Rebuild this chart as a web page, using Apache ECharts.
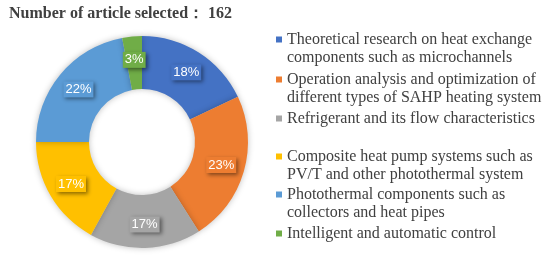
<!DOCTYPE html>
<html><head><meta charset="utf-8">
<script src="https://cdn.jsdelivr.net/npm/echarts@6/dist/echarts.min.js"></script>
<style>html,body{margin:0;padding:0;background:#fff}#c{width:550px;height:257px}</style>
</head><body><div id="c"></div>
<script>
const categories = [
  "Theoretical research on heat exchange\ncomponents such as microchannels",
  "Operation analysis and optimization of\ndifferent types of SAHP heating system",
  "Refrigerant and its flow characteristics",
  "Composite heat pump systems such as\nPV/T and other photothermal system",
  "Photothermal components such as\ncollectors and heat pipes",
  "Intelligent and automatic control"
];
const percentValues = [18, 23, 17, 17, 22, 3];
const colors = ["#4472C4", "#ED7D31", "#A5A5A5", "#FFC000", "#5B9BD5", "#70AD47"];
const titleText = "Number of article selected： 162";

const LH = 18.5;
const firstLineCenters = [39.5, 79.5, 118.5, 156.5, 194.5, 233.5];
const legends = categories.map((name, i) => {
  const two = name.split("\n").length > 1;
  return {
    data: [name],
    left: 276,
    top: two ? firstLineCenters[i] - LH * 1.5 : firstLineCenters[i] - LH / 2,
    orient: 'vertical',
    icon: 'rect',
    itemWidth: 6,
    itemHeight: 6,
    itemGap: 0,
    padding: 0,
    selectedMode: false,
    formatter: two ? (n => "\n" + n) : (n => n),
    textStyle: {
      fontFamily: "Liberation Serif",
      fontSize: 16,
      color: "#404040",
      lineHeight: LH
    }
  };
});

const chart = echarts.init(document.getElementById('c'));
chart.setOption({
  animation: false,
  title: {
    text: titleText,
    left: 9, top: 6, padding: 0,
    textStyle: {fontFamily: "Liberation Serif", fontWeight: "bold", fontSize: 16, color: "#404040"}
  },
  color: colors,
  legend: legends,
  series: [{
    type: 'pie',
    center: [142, 142],
    radius: [53, 106],
    startAngle: 90,
    clockwise: true,
    avoidLabelOverlap: false,
    itemStyle: {shadowBlur: 6, shadowColor: 'rgba(0,0,0,0.25)'},
    label: {
      show: true,
      position: 'inside',
      formatter: '{c}%',
      color: '#fff',
      fontFamily: 'Liberation Sans Narrow, Liberation Sans',
      fontSize: 13,
      padding: [2, 2, 1, 2],
      shadowColor: 'rgba(0,0,0,0.45)',
      shadowBlur: 4,
      shadowOffsetX: 2,
      shadowOffsetY: 2
    },
    labelLine: {show: false},
    emphasis: {disabled: true},
    data: categories.map((n, i) => ({
      name: n, value: percentValues[i],
      label: {backgroundColor: colors[i]}
    }))
  }]
});
</script></body></html>
